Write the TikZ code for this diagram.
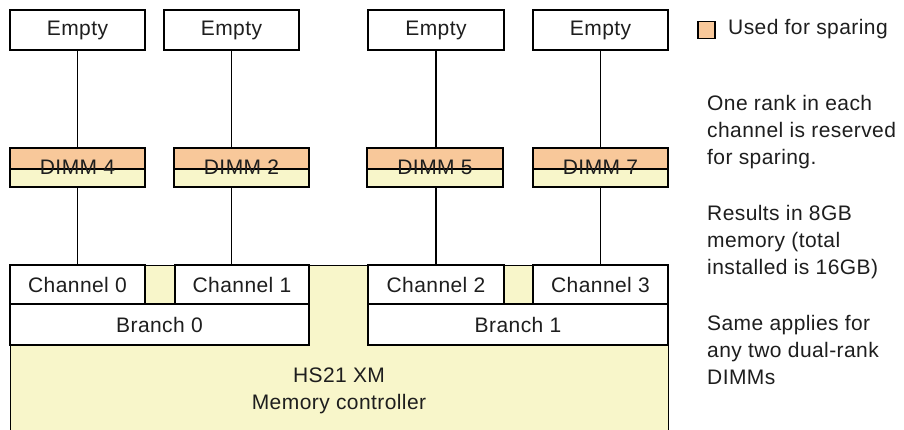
\documentclass[tikz,border=0pt]{standalone}
\usepackage{fontspec}
\setmainfont[LetterSpace=2]{Liberation Sans}
\begin{document}
\begin{tikzpicture}[x=1pt,y=-1pt,
  every node/.style={font=\fontsize{21}{27}\selectfont, text=ink},
  box/.style={draw=black, line width=1.3pt, inner sep=0pt, minimum height=#1},
  box/.default=40pt,
  emptybox/.style={box, fill=white, minimum width=135pt},
  dimm/.style={box=39pt, fill=paleyellow, minimum width=135pt,
    path picture={
      \fill[spare] (path picture bounding box.north west) rectangle
        ([yshift=-1.5pt]path picture bounding box.east);
      \draw[line width=1.3pt] ([yshift=-1.5pt]path picture bounding box.west) --
        ([yshift=-1.5pt]path picture bounding box.east);
    }},
  chan/.style={box=39pt, fill=white},
  branch/.style={box=41pt, fill=white},
  wire/.style={draw=black, line width=1.3pt},
  note/.style={align=left, anchor=north west, inner sep=0pt}
]
\definecolor{paleyellow}{RGB}{248,246,202}
\definecolor{spare}{RGB}{248,200,154}
\definecolor{ink}{RGB}{30,30,30}
\useasboundingbox (0,0) rectangle (904,429);
\clip (0,0) rectangle (904,429);
\fill[white] (0,0) rectangle (904,429);

% memory controller body
\node[box=180pt, fill=paleyellow, minimum width=658pt, anchor=north west] (ctl) at (10,265) {};
\node[align=center, inner sep=0pt] (ctltext) at (339,391) {HS21 XM\\Memory controller};

% branches and channels
\node[branch, minimum width=299pt] (b0) at (159.5,324.5) {Branch 0};
\node[branch, minimum width=300pt] (b1) at (518,324.5) {Branch 1};
\node[chan, minimum width=135pt] (c0) at (77.5,284.5) {Channel 0};
\node[chan, minimum width=134pt] (c1) at (242,284.5) {Channel 1};
\node[chan, minimum width=136pt] (c2) at (436,284.5) {Channel 2};
\node[chan, minimum width=135pt] (c3) at (600.5,284.5) {Channel 3};

% empty slots
\node[emptybox] (e1) at (77.5,30) {Empty};
\node[emptybox] (e2) at (231.5,30) {Empty};
\node[emptybox, minimum width=136pt] (e3) at (436,30) {Empty};
\node[emptybox] (e4) at (600.5,30) {Empty};

% DIMMs, upper rank reserved for sparing
\node[dimm] (d1) at (77.5,167.5) {DIMM 4};
\node[dimm] (d2) at (241.5,167.5) {DIMM 2};
\node[dimm, minimum width=136pt] (d3) at (435,167.5) {DIMM 5};
\node[dimm] (d4) at (600.5,167.5) {DIMM 7};

% connectors
\foreach \e/\d/\c in {e1/d1/c0, e2/d2/c1, e3/d3/c2, e4/d4/c3}{
  \draw[wire] (\e.south) -- (\e.south |- \d.north);
  \draw[wire] (\e.south |- \d.south) -- (\e.south |- \c.north);
}

% legend
\node[draw=black, line width=1.3pt, fill=spare, minimum size=17pt, inner sep=0pt] (key) at (706.5,30) {};
\node[anchor=west, inner sep=0pt] (keytext) at (728,29) {Used for sparing};

% notes
\node[note] (n1) at (707,95) {One rank in each\\channel is reserved\\for sparing.};
\node[note] (n2) at (707,205) {Results in 8GB\\memory (total\\installed is 16GB)};
\node[note] (n3) at (707,315) {Same applies for\\any two dual-rank\\DIMMs};
\end{tikzpicture}
\end{document}
